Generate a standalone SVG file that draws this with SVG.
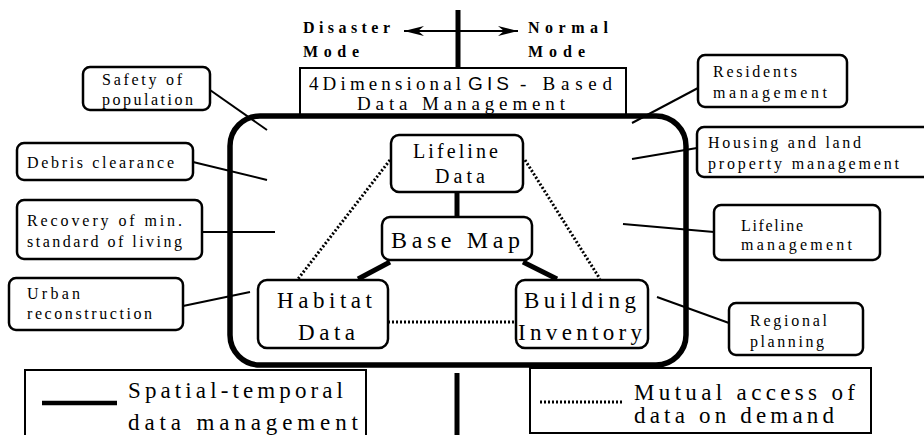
<svg xmlns="http://www.w3.org/2000/svg" width="924" height="435" viewBox="0 0 924 435">
<style>
.bg{fill:#fff}
.box{fill:#fff;stroke:#000;stroke-width:2.5}
.sq{fill:#fff;stroke:#000;stroke-width:2}
.thin{stroke:#000;stroke-width:2;fill:none}
.thick{stroke:#000;stroke-width:5;fill:none}
.dot{stroke:#000;stroke-width:3;stroke-dasharray:2 2;fill:none}
</style>
<defs>
<marker id="arr" viewBox="0 -6 22 12" refX="20" refY="0" markerWidth="22" markerHeight="12" markerUnits="userSpaceOnUse" orient="auto-start-reverse">
<path d="M0,-5 L20,0 L0,5 L6,0 Z" fill="#000"/>
</marker>
</defs>
<rect class="bg" x="0" y="0" width="924" height="435"/>
<g font-family="Times New Roman, Liberation Serif, serif" fill="#000">

<g id="axis">
<line class="thick" x1="458" y1="10" x2="458" y2="68"/>
<line class="thick" x1="457" y1="373" x2="457" y2="435"/>
<line x1="404" y1="31" x2="518" y2="31" stroke="#000" stroke-width="2" marker-start="url(#arr)" marker-end="url(#arr)"/>
<text font-size="16" font-weight="bold" x="303" y="33" textLength="87" lengthAdjust="spacing">Disaster</text>
<text font-size="16" font-weight="bold" x="303" y="57" textLength="56" lengthAdjust="spacing">Mode</text>
<text font-size="16" font-weight="bold" x="528" y="33" textLength="80" lengthAdjust="spacing">Normal</text>
<text font-size="16" font-weight="bold" x="528" y="57" textLength="57" lengthAdjust="spacing">Mode</text>
</g>

<g id="title">
<rect class="sq" x="300" y="68" width="326" height="48"/>
<text font-size="19" x="309" y="90" textLength="152" lengthAdjust="spacing">4Dimensional</text>
<text font-size="19" font-family="Arial, Liberation Sans, sans-serif" x="468" y="90" textLength="41" lengthAdjust="spacing">GIS</text>
<text font-size="19" x="520" y="90" textLength="92" lengthAdjust="spacing">- Based</text>
<text font-size="19" x="357" y="110" textLength="208" lengthAdjust="spacing">Data Management</text>
</g>

<g id="frame">
<rect x="230" y="116" width="456" height="249" rx="30" fill="none" stroke="#000" stroke-width="5.5"/>
</g>

<g id="connectors">
<line class="thin" x1="210" y1="90" x2="267" y2="130"/>
<line class="thin" x1="193" y1="162" x2="267" y2="180"/>
<line class="thin" x1="202" y1="232" x2="275" y2="232"/>
<line class="thin" x1="183" y1="306" x2="250" y2="292"/>
<line class="thin" x1="698" y1="88" x2="632" y2="123"/>
<line class="thin" x1="697" y1="148" x2="632" y2="159"/>
<line class="thin" x1="714" y1="232" x2="623" y2="224"/>
<line class="thin" x1="729" y1="323" x2="657" y2="297"/>
<line class="thick" x1="457" y1="192" x2="457" y2="217"/>
<line class="thick" x1="390" y1="262" x2="358" y2="279"/>
<line class="thick" x1="523" y1="262" x2="557" y2="279"/>
<line class="dot" x1="390" y1="160" x2="298" y2="279"/>
<line class="dot" x1="525" y1="160" x2="600" y2="279"/>
<line class="dot" x1="388" y1="322" x2="516" y2="322"/>
</g>

<g id="lifeline-data">
<rect class="box" x="391" y="135" width="132" height="57" rx="8"/>
<text font-size="20" x="413" y="158" textLength="85" lengthAdjust="spacing">Lifeline</text>
<text font-size="20" x="435" y="183" textLength="50" lengthAdjust="spacing">Data</text>
</g>
<g id="base-map">
<rect class="box" x="382" y="217" width="150" height="43" rx="8"/>
<text font-size="24" x="391" y="248" textLength="129" lengthAdjust="spacing">Base Map</text>
</g>
<g id="habitat-data">
<rect class="box" x="258" y="280" width="130" height="68" rx="9"/>
<text font-size="23" x="277" y="308" textLength="95" lengthAdjust="spacing">Habitat</text>
<text font-size="23" x="298" y="340" textLength="57" lengthAdjust="spacing">Data</text>
</g>
<g id="building-inventory">
<rect class="box" x="516" y="280" width="132" height="68" rx="9"/>
<text font-size="23" x="524" y="308" textLength="112" lengthAdjust="spacing">Building</text>
<text font-size="23" x="518" y="340" textLength="124" lengthAdjust="spacing">Inventory</text>
</g>

<g id="safety">
<rect class="box" x="83" y="67" width="127" height="43" rx="7"/>
<text font-size="16" x="102" y="85" textLength="80" lengthAdjust="spacing">Safety of</text>
<text font-size="16" x="102" y="105" textLength="91" lengthAdjust="spacing">population</text>
</g>
<g id="debris">
<rect class="box" x="17" y="143" width="176" height="37" rx="7"/>
<text font-size="16" x="27" y="168" textLength="147" lengthAdjust="spacing">Debris clearance</text>
</g>
<g id="recovery">
<rect class="box" x="17" y="200" width="185" height="59" rx="7"/>
<text font-size="16" x="27" y="226" textLength="155" lengthAdjust="spacing">Recovery of min.</text>
<text font-size="16" x="27" y="247" textLength="155" lengthAdjust="spacing">standard of living</text>
</g>
<g id="urban">
<rect class="box" x="9" y="278" width="174" height="52" rx="7"/>
<text font-size="16" x="27" y="299" textLength="53" lengthAdjust="spacing">Urban</text>
<text font-size="16" x="27" y="319" textLength="125" lengthAdjust="spacing">reconstruction</text>
</g>

<g id="residents">
<rect class="box" x="698" y="55" width="149" height="52" rx="7"/>
<text font-size="16" x="713" y="77" textLength="84" lengthAdjust="spacing">Residents</text>
<text font-size="16" x="713" y="98" textLength="114" lengthAdjust="spacing">management</text>
</g>
<g id="housing">
<rect class="box" x="697" y="127" width="240" height="50" rx="7"/>
<text font-size="16" x="708" y="148" textLength="153" lengthAdjust="spacing">Housing and land</text>
<text font-size="16" x="708" y="169" textLength="191" lengthAdjust="spacing">property management</text>
</g>
<g id="lifeline-management">
<rect class="box" x="714" y="205" width="166" height="55" rx="7"/>
<text font-size="16" x="741" y="231" textLength="62" lengthAdjust="spacing">Lifeline</text>
<text font-size="16" x="741" y="250" textLength="111" lengthAdjust="spacing">management</text>
</g>
<g id="regional">
<rect class="box" x="729" y="303" width="134" height="52" rx="7"/>
<text font-size="16" x="750" y="326" textLength="77" lengthAdjust="spacing">Regional</text>
<text font-size="16" x="750" y="347" textLength="74" lengthAdjust="spacing">planning</text>
</g>

<g id="legend-solid">
<rect class="sq" x="25" y="370" width="341" height="66"/>
<line x1="42" y1="403" x2="117" y2="403" stroke="#000" stroke-width="4.5"/>
<text font-size="23" x="128" y="398" textLength="215" lengthAdjust="spacing">Spatial-temporal</text>
<text font-size="23" x="128" y="430" textLength="230" lengthAdjust="spacing">data management</text>
</g>
<g id="legend-dotted">
<rect class="sq" x="530" y="368" width="341" height="65"/>
<line class="dot" x1="540" y1="402" x2="622" y2="402"/>
<text font-size="23" x="634" y="400" textLength="221" lengthAdjust="spacing">Mutual access of</text>
<text font-size="23" x="634" y="423" textLength="200" lengthAdjust="spacing">data on demand</text>
</g>
</g>
</svg>
